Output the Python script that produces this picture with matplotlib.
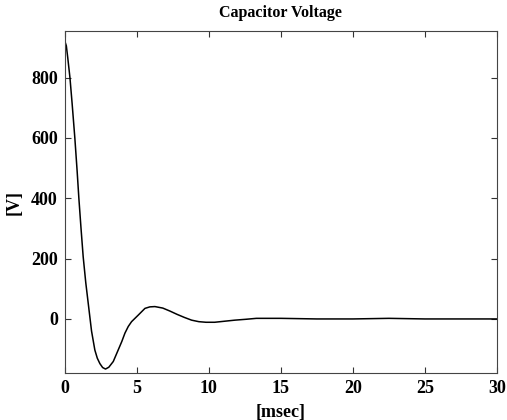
import matplotlib
matplotlib.use('Agg')
import matplotlib.pyplot as plt

# capacitor discharge trace, time in msec, voltage in V
t_ms = [0, 0.1, 0.2, 0.35, 0.5, 0.69, 0.85, 0.97, 1.12, 1.27, 1.45, 1.62,
        1.75, 1.85, 2.08, 2.25, 2.43, 2.62, 2.82, 3.05, 3.36, 3.7, 3.95,
        4.17, 4.4, 4.63, 5.1, 5.56, 5.9, 6.25, 6.8, 7.3, 7.8, 8.3, 8.8,
        9.3, 9.8, 10.4, 11.0, 11.8, 12.6, 13.3, 15, 17.5, 20, 22.5, 25,
        27.5, 30]
volts = [920, 905, 865, 800, 715, 600, 490, 400, 300, 206, 120, 52,
         0, -40, -103, -130, -148, -161, -166, -160, -141, -103, -75,
         -47, -25, -9, 13, 35, 40, 41, 36, 26, 15, 5, -4,
         -9, -11, -11, -8, -4, -1, 2, 2, 0, 0, 2, 0,
         0, 0]

xticks = [0, 5, 10, 15, 20, 25, 30]
yticks = [0, 200, 400, 600, 800]

plt.rcParams['font.family'] = ['Liberation Serif', 'DejaVu Serif']
plt.rcParams['font.weight'] = 'bold'

fig = plt.figure(figsize=(5.07, 4.20), dpi=100)
ax = fig.add_axes([0.128, 0.112, 0.852, 0.814])

ax.plot(t_ms, volts, color='black', lw=1.1)

ax.set_xlim(0, 30)
ax.set_ylim(-179, 954)
ax.set_xticks(xticks)
ax.set_yticks(yticks)
ax.tick_params(direction='in', length=4, width=0.8, top=True, right=True,
               labelsize=13, pad=5, colors='#333333', labelcolor='black')
for lbl in ax.get_xticklabels() + ax.get_yticklabels():
    lbl.set_fontweight('bold')
for sp in ax.spines.values():
    sp.set_linewidth(0.8)
    sp.set_color('#444444')

ax.set_title('Capacitor Voltage', fontsize=11.5, fontweight='bold', pad=10)
ax.set_xlabel('[msec]', fontsize=13, fontweight='bold', labelpad=5)
ax.set_ylabel('[V]', fontsize=13, fontweight='bold', labelpad=6)

fig.savefig('out.png', dpi=100)
